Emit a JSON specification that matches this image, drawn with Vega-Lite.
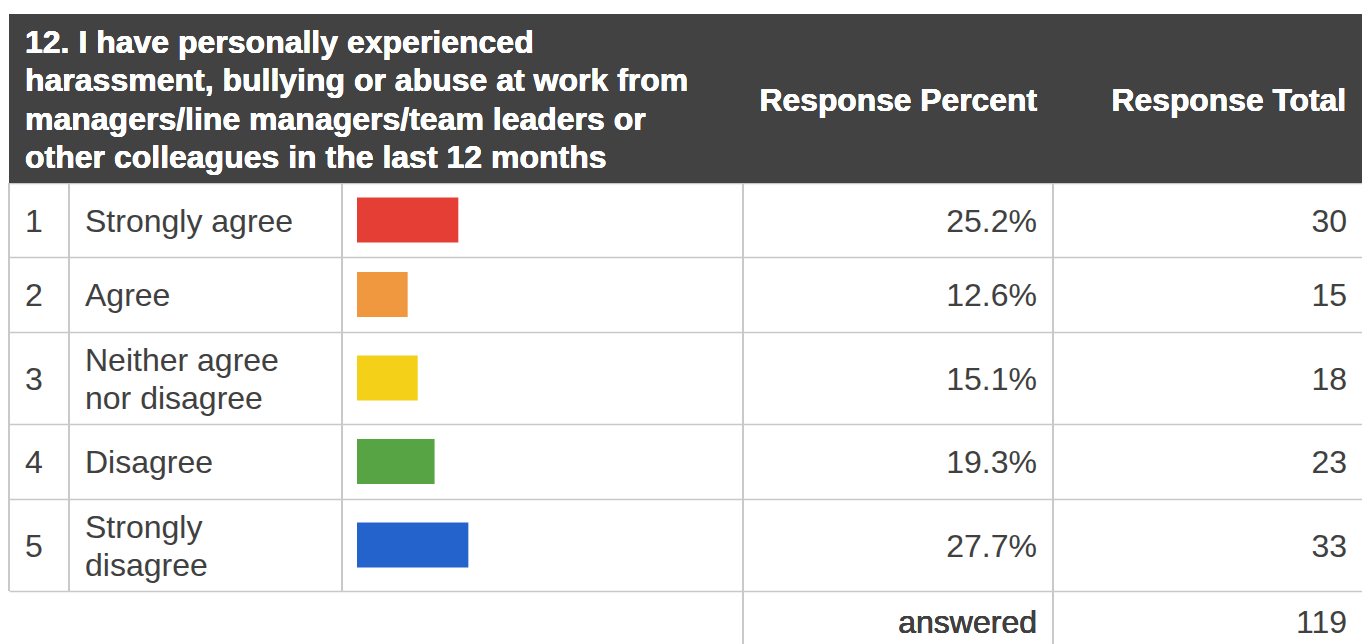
{
  "$schema": "https://vega.github.io/schema/vega-lite/v6.json",
  "width": 1353,
  "height": 630,
  "autosize": {"type": "none"},
  "padding": {"left": 9, "top": 14, "right": 0, "bottom": 0},
  "background": "white",
  "config": {"view": {"stroke": null}, "text": {"font": "Liberation Sans", "fontSize": 32, "color": "#404040"}},
  "data": {"values": [
    {"n": 1, "label": "Strongly agree", "pct": 0.252, "count": 30},
    {"n": 2, "label": "Agree", "pct": 0.126, "count": 15},
    {"n": 3, "label": "Neither agree\nnor disagree", "pct": 0.151, "count": 18},
    {"n": 4, "label": "Disagree", "pct": 0.193, "count": 23},
    {"n": 5, "label": "Strongly\ndisagree", "pct": 0.277, "count": 33}
  ]},
  "layer": [
    {
      "layer": [
        {
          "mark": {"type": "rect", "color": "#424242"},
          "encoding": {
            "x": {"datum": 0, "type": "quantitative", "scale": {"domain": [0, 1, 2, 3, 4, 5], "range": [0, 60, 333, 734, 1044, 1353], "nice": false, "zero": false, "padding": 0}, "axis": null},
            "x2": {"datum": 5},
            "y": {"datum": -0.5, "type": "quantitative",
              "scale": {"domain": [-0.5, 0.5, 1.5, 2.5, 3.5, 4.5, 5.5, 6.5], "range": [0, 169, 243, 318, 410, 485, 577, 638], "nice": false, "zero": false, "padding": 0},
              "axis": {"values": [0.5, 1.5, 2.5, 3.5, 4.5, 5.5], "grid": true, "gridColor": "#c8c8c8", "gridWidth": 1.5, "labels": false, "ticks": false, "domain": false, "title": null}},
            "y2": {"datum": 0.5}
          }
        },
        {"mark": {"type": "rule", "color": "#c8c8c8", "strokeWidth": 1.5}, "encoding": {"x": {"datum": 0, "type": "quantitative", "axis": null}, "y": {"datum": 0.5, "type": "quantitative"}, "y2": {"datum": 5.5}}},
        {"mark": {"type": "rule", "color": "#c8c8c8", "strokeWidth": 1.5}, "encoding": {"x": {"datum": 1, "type": "quantitative", "axis": null}, "y": {"datum": 0.5, "type": "quantitative"}, "y2": {"datum": 5.5}}},
        {"mark": {"type": "rule", "color": "#c8c8c8", "strokeWidth": 1.5}, "encoding": {"x": {"datum": 2, "type": "quantitative", "axis": null}, "y": {"datum": 0.5, "type": "quantitative"}, "y2": {"datum": 5.5}}},
        {"mark": {"type": "rule", "color": "#c8c8c8", "strokeWidth": 1.5}, "encoding": {"x": {"datum": 3, "type": "quantitative", "axis": null}, "y": {"datum": 0.5, "type": "quantitative"}, "y2": {"datum": 6.5}}},
        {"mark": {"type": "rule", "color": "#c8c8c8", "strokeWidth": 1.5}, "encoding": {"x": {"datum": 4, "type": "quantitative", "axis": null}, "y": {"datum": 0.5, "type": "quantitative"}, "y2": {"datum": 6.5}}},
        {
          "mark": {"type": "text", "align": "left", "baseline": "middle", "dx": 16, "dy": -55.5, "fontWeight": "bold", "color": "white", "lineHeight": 38.3, "lineBreak": "\n"},
          "encoding": {
            "x": {"datum": 0, "type": "quantitative", "axis": null},
            "y": {"datum": 0, "type": "quantitative"},
            "text": {"value": "12. I have personally experienced\nharassment, bullying or abuse at work from\nmanagers/line managers/team leaders or\nother colleagues in the last 12 months"}
          }
        },
        {
          "mark": {"type": "text", "align": "right", "baseline": "middle", "dx": -16, "dy": 2, "fontWeight": "bold", "color": "white", "fontSize": 31.8},
          "encoding": {"x": {"datum": 4, "type": "quantitative", "axis": null}, "y": {"datum": 0, "type": "quantitative"}, "text": {"value": "Response Percent"}}
        },
        {
          "mark": {"type": "text", "align": "right", "baseline": "middle", "dx": -16, "dy": 2, "fontWeight": "bold", "color": "white", "fontSize": 31.8},
          "encoding": {"x": {"datum": 5, "type": "quantitative", "axis": null}, "y": {"datum": 0, "type": "quantitative"}, "text": {"value": "Response Total"}}
        },
        {
          "mark": {"type": "text", "align": "left", "baseline": "middle", "dx": 16, "dy": 1.5},
          "encoding": {"x": {"datum": 0, "type": "quantitative", "axis": null}, "y": {"field": "n", "type": "quantitative"}, "text": {"field": "n"}}
        },
        {
          "transform": [{"filter": "indexof(datum.label, '\\n') < 0"}],
          "mark": {"type": "text", "align": "left", "baseline": "middle", "dx": 16, "dy": 1.5},
          "encoding": {"x": {"datum": 1, "type": "quantitative", "axis": null}, "y": {"field": "n", "type": "quantitative"}, "text": {"field": "label"}}
        },
        {
          "transform": [{"filter": "indexof(datum.label, '\\n') >= 0"}],
          "mark": {"type": "text", "align": "left", "baseline": "middle", "dx": 16, "dy": -17.5, "lineHeight": 38, "lineBreak": "\n"},
          "encoding": {"x": {"datum": 1, "type": "quantitative", "axis": null}, "y": {"field": "n", "type": "quantitative"}, "text": {"field": "label"}}
        },
        {
          "mark": {"type": "text", "align": "right", "baseline": "middle", "dx": -16, "dy": 1.5},
          "encoding": {"x": {"datum": 4, "type": "quantitative", "axis": null}, "y": {"field": "n", "type": "quantitative"}, "text": {"field": "pct", "format": ".1%"}}
        },
        {
          "mark": {"type": "text", "align": "right", "baseline": "middle", "dx": -15, "dy": 1.5},
          "encoding": {"x": {"datum": 5, "type": "quantitative", "axis": null}, "y": {"field": "n", "type": "quantitative"}, "text": {"field": "count"}}
        },
        {
          "mark": {"type": "text", "align": "right", "baseline": "middle", "dx": -16, "dy": 1.5},
          "encoding": {"x": {"datum": 4, "type": "quantitative", "axis": null}, "y": {"datum": 6, "type": "quantitative"}, "text": {"value": "answered"}}
        },
        {
          "mark": {"type": "text", "align": "right", "baseline": "middle", "dx": -15, "dy": 1.5},
          "encoding": {"x": {"datum": 5, "type": "quantitative", "axis": null}, "y": {"datum": 6, "type": "quantitative"}, "text": {"aggregate": "sum", "field": "count", "type": "quantitative"}}
        }
      ]
    },
    {
      "mark": {"type": "bar", "orient": "horizontal", "size": 45},
      "encoding": {
        "x": {"field": "pct", "type": "quantitative", "scale": {"domain": [0, 1], "range": [348, 750], "nice": false, "zero": true}, "axis": null},
        "y": {"field": "n", "type": "quantitative"},
        "color": {"field": "label", "type": "nominal", "legend": null,
          "scale": {"domain": ["Strongly agree", "Agree", "Neither agree\nnor disagree", "Disagree", "Strongly\ndisagree"], "range": ["#e53e34", "#f0983f", "#f4d018", "#57a445", "#2463cb"]}}
      }
    }
  ],
  "resolve": {"scale": {"x": "independent"}}
}
